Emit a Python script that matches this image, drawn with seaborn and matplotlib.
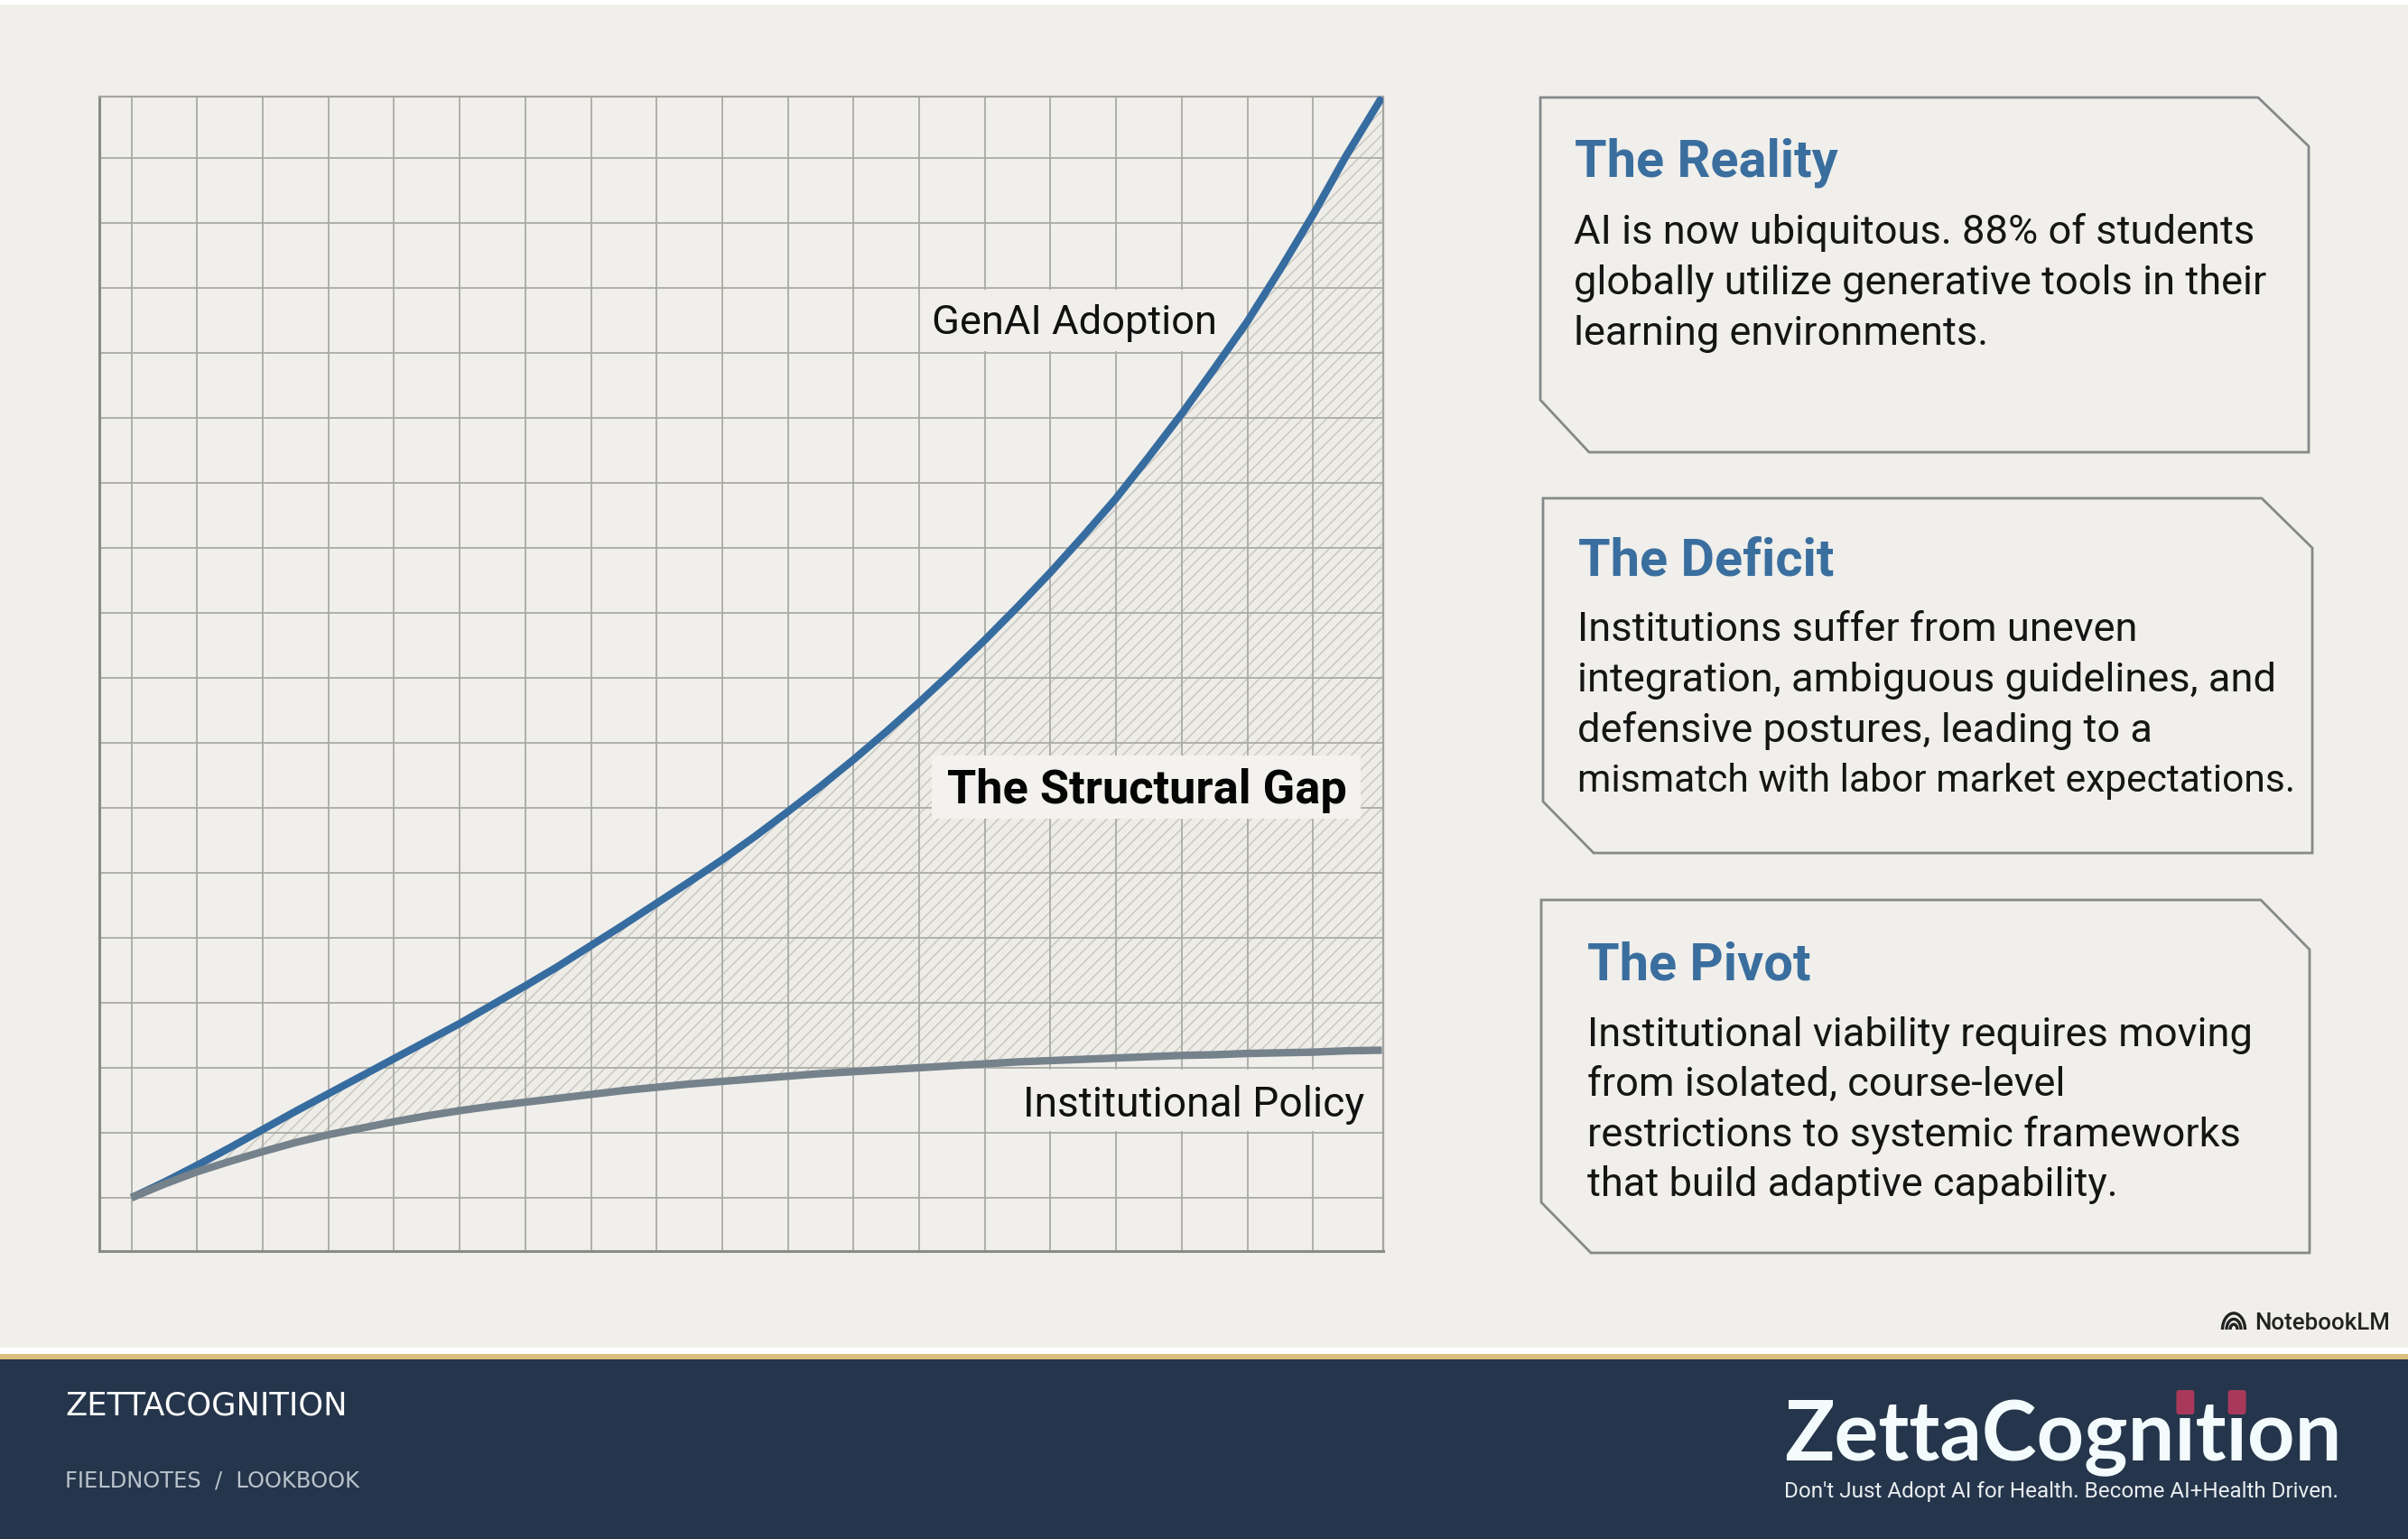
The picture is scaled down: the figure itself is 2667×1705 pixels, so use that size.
"""Structural gap chart with three call-out boxes and a branded footer."""

import matplotlib

matplotlib.use("Agg")

import matplotlib.pyplot as plt
import pandas as pd
import seaborn as sns
from matplotlib.patches import Arc, FancyBboxPatch, Polygon, Rectangle

# half grid steps along the time axis and the values
steps = [0, 0.5, 1, 1.5, 2, 2.5, 3, 3.5, 4, 4.5, 5, 5.5, 6, 6.5, 7, 7.5, 8, 8.5, 9, 9.5,
         10, 10.5, 11, 11.5, 12, 12.5, 13, 13.5, 14, 14.5, 15, 15.5, 16, 16.5, 17, 17.5,
         18, 18.5, 19.05]
genai_adoption = [0, 0.24, 0.50, 0.77, 1.05, 1.33, 1.60, 1.87, 2.14, 2.41, 2.68, 2.97, 3.26, 3.56,
                  3.88, 4.20, 4.53, 4.86, 5.20, 5.56, 5.94, 6.33, 6.74, 7.17, 7.62, 8.09, 8.58,
                  9.09, 9.62, 10.18, 10.76, 11.40, 12.06, 12.76, 13.48, 14.28, 15.12, 16.02, 16.93]
institutional_policy = [0, 0.21, 0.40, 0.56, 0.71, 0.85, 0.97, 1.07, 1.17, 1.26, 1.34, 1.41, 1.47, 1.53,
                        1.59, 1.65, 1.70, 1.75, 1.79, 1.83, 1.87, 1.91, 1.94, 1.97, 2.00, 2.03, 2.06,
                        2.09, 2.11, 2.13, 2.15, 2.17, 2.19, 2.20, 2.22, 2.23, 2.24, 2.26, 2.27]

box_titles = ["The Reality", "The Deficit", "The Pivot"]
box_lines = [
    ["AI is now ubiquitous. 88% of students",
     "globally utilize generative tools in their",
     "learning environments."],
    ["Institutions suffer from uneven",
     "integration, ambiguous guidelines, and",
     "defensive postures, leading to a",
     "mismatch with labor market expectations."],
    ["Institutional viability requires moving",
     "from isolated, course-level",
     "restrictions to systemic frameworks",
     "that build adaptive capability."],
]
# left, top, right, bottom, notch x, notch y, lower notch y, lower notch x
box_shapes = [
    (1706, 108, 2557, 501, 2501, 162, 443, 1760),
    (1709, 552, 2561, 945, 2505, 607, 888, 1765),
    (1707, 997, 2558, 1388, 2504, 1052, 1332, 1762),
]
title_anchors = [(1744, 196), (1748, 638), (1758, 1086)]
body_anchors = [(1743, [270, 326, 382]), (1747, [710, 766, 822, 877]), (1758, [1159, 1214, 1270, 1325])]

BG = "#F0EFEB"
BLUE = "#366C9F"
GREY = "#75828B"
NAVY = "#25354B"
GOLD = "#DCBE7C"
W, H = 2667, 1705

sns.set_theme(style="white")
plt.rcParams["font.family"] = ["Roboto", "DejaVu Sans"]
plt.rcParams["hatch.linewidth"] = 0.5
plt.rcParams["hatch.color"] = "#C6C6BE"

fig = plt.figure(figsize=(W / 200, H / 200), dpi=200, facecolor=BG)

# chart axes, one unit per grid cell
ax = fig.add_axes([110 / W, 1 - 1386 / H, (1532 - 110) / W, (1386 - 107) / H], facecolor=BG)
curves = pd.DataFrame({"step": steps, "genai": genai_adoption, "policy": institutional_policy})
ax.set_axisbelow("line")
ax.fill_between(curves["step"], curves["policy"], curves["genai"], facecolor="#EDECE7",
                edgecolor="#C6C6BE", hatch="/////", linewidth=0, zorder=1)
sns.lineplot(data=curves, x="step", y="genai", color=BLUE, linewidth=3.0, ax=ax,
             estimator=None, sort=False, zorder=3, solid_capstyle="butt")
sns.lineplot(data=curves, x="step", y="policy", color=GREY, linewidth=3.0, ax=ax,
             estimator=None, sort=False, zorder=4, solid_capstyle="butt")
ax.set_xlim(-0.49, 19.07)
ax.set_ylim(-0.82, 16.94)
ax.set_xticks(range(0, 19))
ax.set_yticks(range(0, 17))
ax.set_xlabel("")
ax.set_ylabel("")
ax.tick_params(length=0, labelbottom=False, labelleft=False)
ax.grid(True, color="#ABABA5", linewidth=0.65)
for side, width, colour in [("left", 1.1, "#8A8B85"), ("bottom", 1.1, "#8A8B85"),
                            ("top", 0.8, "#A5A59F"), ("right", 0.8, "#A5A59F")]:
    ax.spines[side].set_visible(True)
    ax.spines[side].set_linewidth(width)
    ax.spines[side].set_color(colour)

# overlay in picture pixels for labels, boxes and footer
over = fig.add_axes([0, 0, 1, 1], zorder=5)
over.set_xlim(0, W)
over.set_ylim(H, 0)
over.axis("off")


def band(top, bottom, colour):
    over.add_patch(Rectangle((0, top), W, bottom - top, facecolor=colour, edgecolor="none"))


def label_patch(left, top, right, bottom, colour=BG):
    over.add_patch(Rectangle((left, top), right - left, bottom - top, facecolor=colour, edgecolor="none"))


def write(x, y, text, size, colour="#111111", weight="normal", **kwargs):
    return over.text(x, y, text, fontsize=size, color=colour, fontweight=weight,
                     ha="left", va="baseline", **kwargs)


band(0, 5, "#FFFFFF")
band(1493, 1500, "#FFFFFF")
band(1500, 1506, GOLD)
band(1506, H, NAVY)

label_patch(1021, 321, 1345, 389)
label_patch(1032, 837, 1507, 907, "#F3F2EE")
label_patch(1094, 1185, 1530, 1253)
write(1032, 370, "GenAI Adoption", 16.3)
write(1049, 890, "The Structural Gap", 18.85, colour="#050505", weight="bold")
write(1133, 1237, "Institutional Policy", 16.6)

for title, (tx, ty), lines, (bx, ys), shape in zip(box_titles, title_anchors, box_lines, body_anchors, box_shapes):
    left, top, right, bottom, nx, ny, ly, lx = shape
    over.add_patch(Polygon([(left, top), (nx, top), (right, ny), (right, bottom), (lx, bottom), (left, ly)],
                           closed=True, facecolor="none", edgecolor="#85898A", linewidth=1.0))
    write(tx, ty, title, 20.8, colour="#3A6E9E", weight="bold")
    for line, y in zip(lines, ys):
        # this line runs wider in Roboto than in the original face
        write(bx, y, line, 15.35 if line.startswith("mismatch") else 16.3, colour="#151515")

# NotebookLM mark
for radius in [8, 16, 25]:
    over.add_patch(Arc((2474, 1473), radius, radius * 1.45, theta1=180, theta2=360,
                       edgecolor="#222222", linewidth=1.2))
write(2497, 1473, "NotebookLM", 9.3, colour="#222222", weight=500)

# footer
write(72, 1568, "ZETTACOGNITION", 12.7, colour="#FFFFFF", family="DejaVu Sans")
write(72, 1648, "FIELDNOTES  /  LOOKBOOK", 8.7, colour="#B9C3CC", family="DejaVu Sans")
logo = write(1976, 1617, "ZettaCognition", 33, colour="#F3FBFD", weight="bold", family="Lato")

# red tittles sit on the two i's of the logo, so measure where the font put them
renderer = fig.canvas.get_renderer()
for prefix in ["ZettaCogn", "ZettaCognit"]:
    probe = write(1976, 1617, prefix, 33, weight="bold", family="Lato")
    prefix_end = probe.get_window_extent(renderer).x1
    probe.remove()
    over.add_patch(FancyBboxPatch((prefix_end + 2, 1540), 20, 27, boxstyle="round,pad=0,rounding_size=3",
                                  facecolor="#A8395A", edgecolor="none", zorder=6))
write(1976, 1659, "Don't Just Adopt AI for Health. Become AI+Health Driven.", 8.75, colour="#E8EDF0")

fig.savefig("out.png", dpi=200, facecolor=BG)
plt.close(fig)
